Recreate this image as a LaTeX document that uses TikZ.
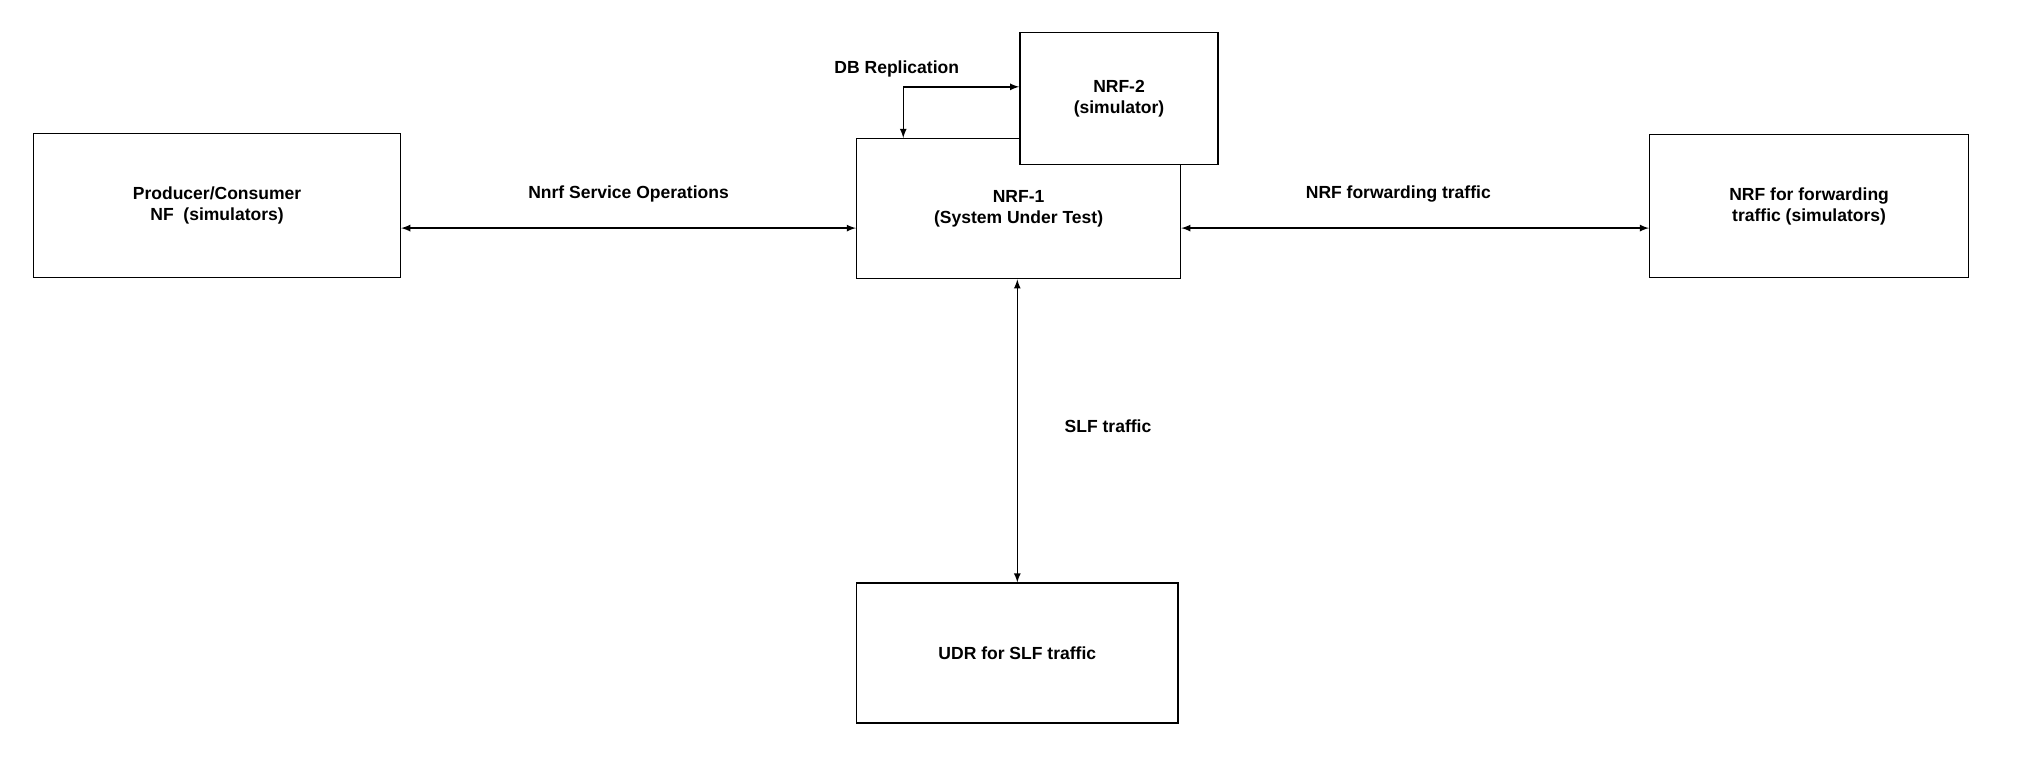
\documentclass[tikz,border=0pt]{standalone}
\usepackage{fontspec}
\setmainfont{Liberation Sans}
\usetikzlibrary{positioning}
\tikzset{
    nf-box/.style = {draw, thick, fill=white, rectangle, align=center, font=\bfseries},
    link/.style = {thick, <->, >=latex},
    link-label/.style = {font=\bfseries},
}
\begin{document}
\begin{tikzpicture}[x=0.026cm, y=-0.026cm, every node/.style={font=\fontsize{13}{16}\selectfont\bfseries}]
\useasboundingbox (0,0) rectangle (1568,597);
\node [nf-box, minimum width=283*0.026cm, minimum height=111*0.026cm] (prod) at (167.5,158.5) {Producer/Consumer\\NF\ \ (simulators)};
\node [nf-box, minimum width=250*0.026cm, minimum height=108*0.026cm] (nrf1) at (786,161) {NRF-1\\(System Under Test)};
\node [nf-box, minimum width=153*0.026cm, minimum height=102*0.026cm] (nrf2) at (863.5,76) {NRF-2\\(simulator)};
\node [nf-box, minimum width=246*0.026cm, minimum height=110*0.026cm] (fwd) at (1396,159) {NRF for forwarding\\traffic (simulators)};
\node [nf-box, minimum width=248*0.026cm, minimum height=108*0.026cm] (udr) at (785,504) {UDR for SLF traffic};
\coordinate (corner) at (697,67);

\draw [link] (prod.east |- 0,176) -- (nrf1.west |- 0,176);
\draw [link] (nrf1.east |- 0,176) -- (fwd.west |- 0,176);
\draw [link] (nrf1.south -| 785,0) -- (udr.north -| 785,0);
\draw [link] (nrf1.north -| corner) -- (corner) -- (nrf2.west |- corner);

\node [link-label] at (485,150) {Nnrf Service Operations};
\node [link-label] at (1079,150) {NRF forwarding traffic};
\node [link-label] at (855,329) {SLF traffic};
\node [link-label] at (692,53) {DB Replication};
\end{tikzpicture}
\end{document}
